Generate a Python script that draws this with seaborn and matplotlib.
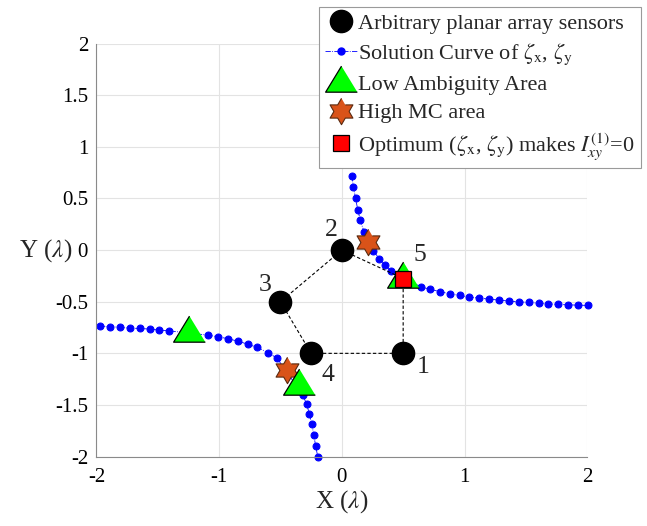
import numpy as np
import pandas as pd
import matplotlib
matplotlib.use("Agg")
import matplotlib.pyplot as plt
from matplotlib.lines import Line2D
import seaborn as sns

# ---------------- data ----------------
right_x = [0.081, 0.095, 0.112, 0.130, 0.151, 0.181, 0.254, 0.306, 0.352, 0.401,
           0.643, 0.716, 0.803, 0.882, 0.961, 1.039, 1.121, 1.200, 1.281, 1.363,
           1.444, 1.526, 1.605, 1.683, 1.764, 1.844, 1.925, 2.004]
right_y = [0.717, 0.610, 0.501, 0.392, 0.288, 0.177, -0.005, -0.082, -0.145, -0.199,
           -0.356, -0.378, -0.404, -0.423, -0.439, -0.455, -0.465, -0.475, -0.484, -0.494,
           -0.501, -0.507, -0.514, -0.520, -0.526, -0.530, -0.533, -0.536]
left_x = [-1.971, -1.890, -1.807, -1.728, -1.646, -1.565, -1.487, -1.407,
          -1.088, -1.007, -0.925, -0.848, -0.767, -0.689, -0.601, -0.528,
          -0.319, -0.286, -0.265, -0.245, -0.228, -0.213, -0.196]
left_y = [-0.736, -0.741, -0.748, -0.756, -0.759, -0.765, -0.775, -0.782,
          -0.824, -0.840, -0.859, -0.882, -0.911, -0.943, -0.993, -1.047,
          -1.400, -1.495, -1.584, -1.686, -1.793, -1.899, -2.001]

sensor_x = [0.5, 0.0, -0.5, -0.25]          # sensors 1..4
sensor_y = [-1.0, 0.0, -0.5, -1.0]
poly_x = [0.5, 0.5, 0.0, -0.5, -0.25, 0.5]  # 1 -> 5 -> 2 -> 3 -> 4 -> 1
poly_y = [-1.0, -0.275, 0.0, -0.5, -1.0, -1.0]
label_text = ["1", "2", "3", "4", "5"]
label_x = [0.664, -0.082, -0.626, -0.115, 0.637]
label_y = [-1.130, 0.194, -0.339, -1.211, -0.048]

low_amb_x = [0.5, -1.243, -0.346]
low_amb_y = [-0.275, -0.80, -1.32]
high_mc_x = [0.216, -0.444]
high_mc_y = [0.08, -1.165]
opt_x = [0.5]
opt_y = [-0.275]

x_ticks = [-2, -1, 0, 1, 2]
y_ticks = [-2, -1.5, -1, -0.5, 0, 0.5, 1, 1.5, 2]
y_tick_labels = ["-2", "-1.5", "-1", "-0.5", "0", "0.5", "1", "1.5", "2"]
x_tick_labels = ["-2", "-1", "0", "1", "2"]

# ---------------- style ----------------
sns.set_theme(style="white")
plt.rcParams["font.family"] = ["Liberation Serif", "DejaVu Serif"]
plt.rcParams["mathtext.fontset"] = "stix"
plt.rcParams["axes.unicode_minus"] = False

fig = plt.figure(figsize=(6.47, 5.26), dpi=100)
ax = fig.add_axes([0.149, 0.132, 0.7586, 0.785])

# markers
tri_marker = [(0, 2 * 0.82 / 3), (-0.5, -0.82 / 3), (0.5, -0.82 / 3)]  # centroid-centered
ang_o = np.deg2rad(90 + 60 * np.arange(6))
ang_i = np.deg2rad(120 + 60 * np.arange(6))
hexa = []
for ao, ai in zip(ang_o, ang_i):
    hexa.append((np.cos(ao), np.sin(ao)))
    hexa.append((np.cos(ai) / np.sqrt(3), np.sin(ai) / np.sqrt(3)))

blue = "#0000FF"
green = "#00FF00"
orange = "#D95319"
red = "#FF0000"

# solution curve (two branches)
curve_kw = dict(color=blue, linestyle="-.", linewidth=0.6, marker="o", markersize=5,
                markeredgecolor=blue, markerfacecolor=blue, sort=False, estimator=None,
                clip_on=False, zorder=2, legend=False)
sns.lineplot(data=pd.DataFrame({"x": right_x, "y": right_y}), x="x", y="y", ax=ax, **curve_kw)
sns.lineplot(data=pd.DataFrame({"x": left_x, "y": left_y}), x="x", y="y", ax=ax, **curve_kw)

# sensor polygon
ax.plot(poly_x, poly_y, linestyle=(0, (3, 2)), color="black", linewidth=0.8, zorder=3)
ax.plot(sensor_x, sensor_y, linestyle="none", marker="o", markersize=16,
        markerfacecolor="black", markeredgecolor="black", zorder=4)
ax.plot(high_mc_x, high_mc_y, linestyle="none", marker=hexa, markersize=19,
        markerfacecolor=orange, markeredgecolor="#5a2a10", markeredgewidth=0.8, zorder=5)
ax.plot(low_amb_x, low_amb_y, linestyle="none", marker=tri_marker, markersize=25,
        markerfacecolor=green, markeredgecolor="black", markeredgewidth=0.9, zorder=6)
ax.plot(opt_x, opt_y, linestyle="none", marker="s", markersize=12,
        markerfacecolor=red, markeredgecolor="black", markeredgewidth=0.9, zorder=7)

for t, lx, ly in zip(label_text, label_x, label_y):
    ax.text(lx, ly, t, fontsize=18.5, ha="center", va="center", zorder=8)

# axes
ax.set_xlim(-2, 2)
ax.set_ylim(-2, 2)
ax.set_xticks(x_ticks)
ax.set_xticklabels(x_tick_labels)
ax.set_yticks(y_ticks)
ax.set_yticklabels(y_tick_labels)
ax.tick_params(axis="both", labelsize=15, direction="in", length=3, width=0.6,
               color="#808080", labelcolor="black")
ax.tick_params(axis="x", pad=8)
ax.tick_params(axis="y", pad=6)
ax.grid(True, color="#e3e3e3", linewidth=0.8)
ax.set_axisbelow(True)
for s in ["top", "right"]:
    ax.spines[s].set_visible(False)
for s in ["left", "bottom"]:
    ax.spines[s].set_color("#8a8a8a")
    ax.spines[s].set_linewidth(0.8)

ax.set_xlabel(r"X ($\lambda$)", fontsize=18, va="center")
ax.xaxis.set_label_coords(0.5, -0.11)
ax.set_ylabel(r"Y ($\lambda$)", fontsize=18, rotation=0, ha="right", va="center")
ax.yaxis.set_label_coords(-0.05, 0.5)

# legend
handles = [
    Line2D([], [], linestyle="none", marker="o", markersize=16, markerfacecolor="black",
           markeredgecolor="black"),
    Line2D([], [], color=blue, linestyle="-.", linewidth=0.6, marker="o", markersize=5,
           markerfacecolor=blue, markeredgecolor=blue),
    Line2D([], [], linestyle="none", marker=tri_marker, markersize=25, markerfacecolor=green,
           markeredgecolor="black", markeredgewidth=0.9),
    Line2D([], [], linestyle="none", marker=hexa, markersize=19, markerfacecolor=orange,
           markeredgecolor="#5a2a10", markeredgewidth=0.8),
    Line2D([], [], linestyle="none", marker="s", markersize=12, markerfacecolor=red,
           markeredgecolor="black", markeredgewidth=0.9),
]
labels = [
    "Arbitrary planar array sensors",
    r"Solution Curve of $\zeta_{\mathrm{x}}$, $\zeta_{\mathrm{y}}$",
    "Low Ambiguity Area",
    "High MC area",
    r"Optimum ($\zeta_{\mathrm{x}}$, $\zeta_{\mathrm{y}}$) makes $I^{(1)}_{xy}$=0",
]
leg = fig.legend(handles, labels, loc="upper right", bbox_to_anchor=(0.990, 0.986),
                 fontsize=16, frameon=True, fancybox=False, framealpha=1,
                 edgecolor="#9a9a9a", borderpad=0.28, handlelength=1.4,
                 handletextpad=0.06, labelspacing=0.34, borderaxespad=0)
leg.get_frame().set_linewidth(0.8)

fig.savefig("out.png", dpi=100)
